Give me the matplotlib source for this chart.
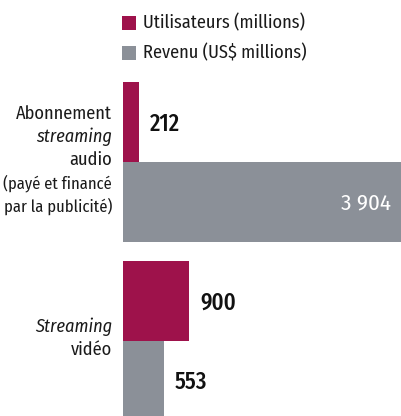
import matplotlib
matplotlib.use("Agg")
import matplotlib.pyplot as plt

plt.rcParams["font.family"] = ["Fira Sans Condensed", "DejaVu Sans"]

# Data
categories = ["audio", "video"]
users = [212, 900]          # Utilisateurs (millions)
revenue = [3904, 553]       # Revenu (US$ millions)
value_labels_users = ["212", "900"]
value_labels_revenue = ["3 904", "553"]
legend_labels = ["Utilisateurs (millions)", "Revenu (US$ millions)"]

MAGENTA = "#9E124B"
GRAY = "#8B9098"
TXT = "#1a1a1a"

W, H = 402, 416
fig = plt.figure(figsize=(W / 100, H / 100), dpi=100)

# axes extends past right edge (chart is cropped)
left_px = 123
scale = 0.0735  # px per unit
xmax = 4000
ax = fig.add_axes([left_px / W, 0, xmax * scale / W, 1])
ax.set_xlim(0, xmax)

spacing = 179.0
c0 = 162.0
ax.set_ylim((H - c0) / spacing, -c0 / spacing)
bh = 80 / spacing

pos = [0, 1]
ax.barh([p - bh / 2 for p in pos], users, height=bh, color=MAGENTA, linewidth=0)
ax.barh([p + bh / 2 for p in pos], revenue, height=bh, color=GRAY, linewidth=0)

ax.axis("off")

fs = 13.2
vfs = 16.5
# value labels
off = 11 / scale
for p, v, lab in zip(pos, users, value_labels_users):
    ax.text(v + off, p - bh / 2 + 2 / spacing, lab, ha="left", va="center", fontsize=vfs,
            fontweight=500, color="#111111")
ax.text(revenue[0] - 19 / scale, pos[0] + bh / 2 + 1 / spacing, value_labels_revenue[0], ha="right",
        va="center", fontsize=vfs, color="white")
ax.text(revenue[1] + off, pos[1] + bh / 2 + 1 / spacing, value_labels_revenue[1], ha="left",
        va="center", fontsize=vfs, fontweight=500, color="#111111")

def px_y(y):
    return 1 - y / H

lab_x = 112 / W
renderer = fig.canvas.get_renderer()

def fit_text(t, st, y, maxw=108):
    txt = fig.text(lab_x, px_y(y), t, ha="right", va="center", fontsize=fs, style=st, color=TXT)
    w = txt.get_window_extent(renderer=renderer).width
    if w > maxw:
        txt.set_fontsize(fs * maxw / w)
    return txt

audio_lines = [("Abonnement", "normal"), ("streaming", "italic"), ("audio", "normal"),
               ("(payé et financé", "normal"), ("par la publicité)", "normal")]
ys = [114, 137, 160, 183, 206]
for (t, st), y in zip(audio_lines, ys):
    fit_text(t, st, y)
video_lines = [("Streaming", "italic"), ("vidéo", "normal")]
for (t, st), y in zip(video_lines, [327, 350]):
    fit_text(t, st, y)

# legend
for (lab, col), y in zip(zip(legend_labels, [MAGENTA, GRAY]), [22.5, 53]):
    fig.patches.append(plt.Rectangle((122 / W, px_y(y + 7)), 14 / W, 14 / H,
                                     transform=fig.transFigure, color=col, linewidth=0))
    fig.text(143 / W, px_y(y), lab, ha="left", va="center", fontsize=fs, color=TXT)

fig.savefig("out.png", dpi=100)
